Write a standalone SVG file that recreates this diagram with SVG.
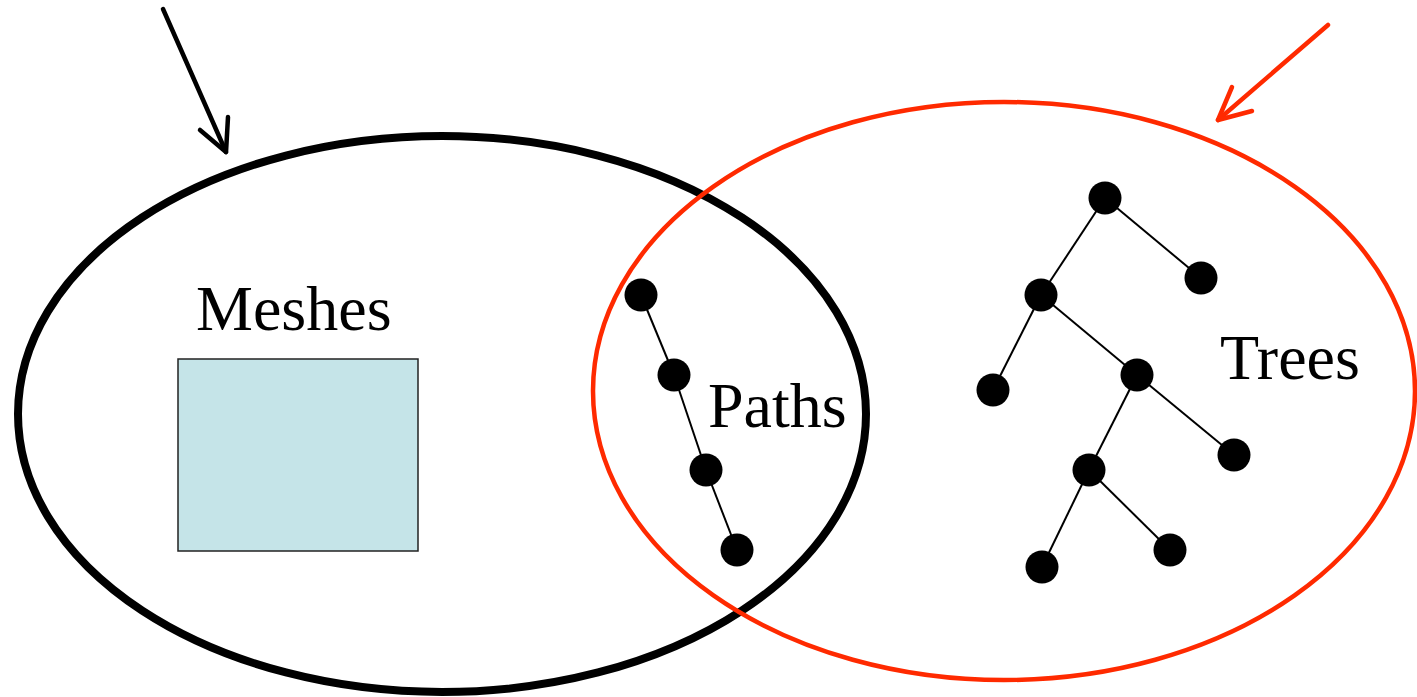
<svg xmlns="http://www.w3.org/2000/svg" width="1417" height="697" viewBox="0 0 1417 697">
<style>
.lbl{font-family:"Liberation Serif","Times New Roman",serif;font-size:64px;fill:#000}
.node{fill:#000}
.edge{stroke:#000;stroke-width:2;fill:none}
</style>
<rect width="1417" height="697" fill="#fff"/>
<g id="meshes-set">
<ellipse cx="442" cy="414" rx="424" ry="278" fill="none" stroke="#000" stroke-width="8"/>
</g>
<g id="trees-set">
<ellipse cx="1004" cy="391" rx="411" ry="289" fill="none" stroke="#FF2A00" stroke-width="4.5"/>
</g>
<g id="meshes">
<text class="lbl" x="196" y="330">Meshes</text>
<rect x="178" y="359" width="240" height="192" fill="#C5E4E8" stroke="#222" stroke-width="1.5"/>
</g>
<g id="connectors">
<g class="edge">
<line x1="641" y1="295" x2="674" y2="375"/>
<line x1="674" y1="375" x2="706" y2="470"/>
<line x1="706" y1="470" x2="737" y2="550"/>
<line x1="1105" y1="198" x2="1041" y2="295"/>
<line x1="1105" y1="198" x2="1201" y2="278"/>
<line x1="1041" y1="295" x2="993" y2="390"/>
<line x1="1041" y1="295" x2="1137" y2="375"/>
<line x1="1137" y1="375" x2="1234" y2="455"/>
<line x1="1137" y1="375" x2="1089" y2="470"/>
<line x1="1089" y1="470" x2="1042" y2="567"/>
<line x1="1089" y1="470" x2="1170" y2="550"/>
</g>
<g id="arrow-black" fill="none" stroke="#000" stroke-width="4.5" stroke-linecap="round" stroke-linejoin="round">
<line x1="163" y1="9" x2="226" y2="152"/>
<polyline points="200,130 226,152 228,117"/>
</g>
<g id="arrow-red" fill="none" stroke="#FF2A00" stroke-width="4.5" stroke-linecap="round" stroke-linejoin="round">
<line x1="1328" y1="25" x2="1218" y2="120"/>
<polyline points="1232,87 1218,120 1252,111"/>
</g>
</g>
<g id="paths">
<circle class="node" cx="641" cy="295" r="16.5"/>
<circle class="node" cx="674" cy="375" r="16.5"/>
<circle class="node" cx="706" cy="470" r="16.5"/>
<circle class="node" cx="737" cy="550" r="16.5"/>
<text class="lbl" x="708" y="427">Paths</text>
</g>
<g id="trees">
<circle class="node" cx="1105" cy="198" r="16.5"/>
<circle class="node" cx="1201" cy="278" r="16.5"/>
<circle class="node" cx="1041" cy="295" r="16.5"/>
<circle class="node" cx="993" cy="390" r="16.5"/>
<circle class="node" cx="1137" cy="375" r="16.5"/>
<circle class="node" cx="1234" cy="455" r="16.5"/>
<circle class="node" cx="1089" cy="470" r="16.5"/>
<circle class="node" cx="1042" cy="567" r="16.5"/>
<circle class="node" cx="1170" cy="550" r="16.5"/>
<text class="lbl" x="1220" y="379">Trees</text>
</g>
</svg>
